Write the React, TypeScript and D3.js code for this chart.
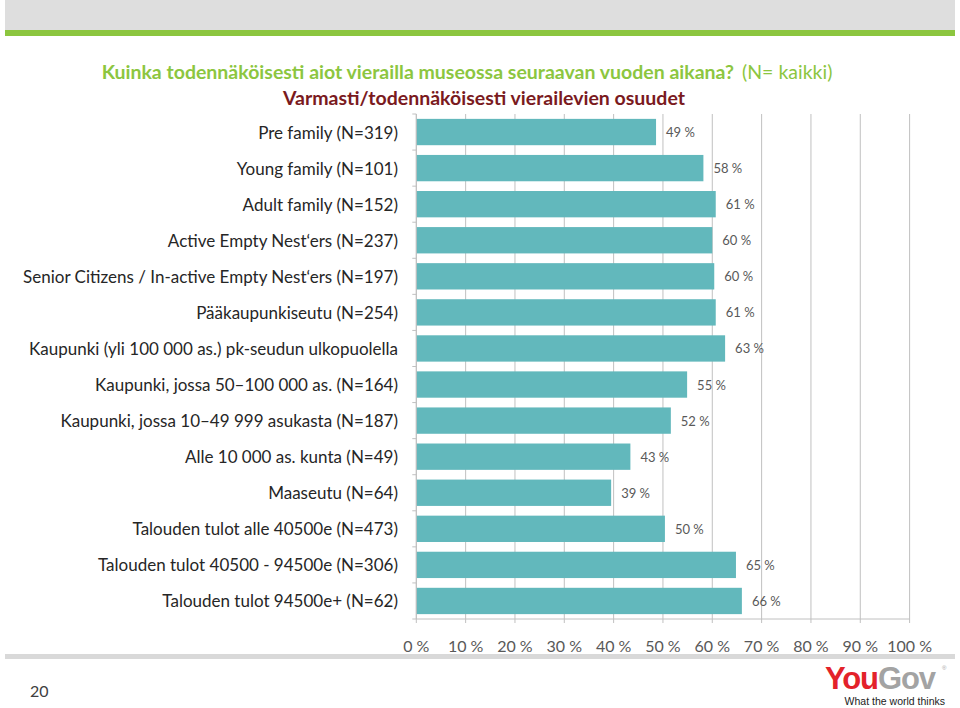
import React from "react";
import * as d3 from "d3";

const categories: string[] = [
  "Pre family (N=319)",
  "Young family (N=101)",
  "Adult family (N=152)",
  "Active Empty Nest‘ers (N=237)",
  "Senior Citizens / In-active Empty Nest‘ers (N=197)",
  "Pääkaupunkiseutu (N=254)",
  "Kaupunki (yli 100 000 as.) pk-seudun ulkopuolella",
  "Kaupunki, jossa 50–100 000 as. (N=164)",
  "Kaupunki, jossa 10–49 999 asukasta (N=187)",
  "Alle 10 000 as. kunta (N=49)",
  "Maaseutu (N=64)",
  "Talouden tulot alle 40500e (N=473)",
  "Talouden tulot 40500 - 94500e (N=306)",
  "Talouden tulot 94500e+ (N=62)",
];

const values: number[] = [48.6, 58.2, 60.7, 60.0, 60.4, 60.7, 62.6, 54.9, 51.6, 43.4, 39.5, 50.4, 64.8, 66.0];
const valueLabels: string[] = ["49 %", "58 %", "61 %", "60 %", "60 %", "61 %", "63 %", "55 %", "52 %", "43 %", "39 %", "50 %", "65 %", "66 %"];
const xTicks: number[] = [0, 10, 20, 30, 40, 50, 60, 70, 80, 90, 100];

const titleMain = "Kuinka todennäköisesti aiot vierailla museossa seuraavan vuoden aikana?";
const titleN = "(N= kaikki)";
const subtitle = "Varmasti/todennäköisesti vierailevien osuudet";
const pageNumber = "20";

const W = 960;
const H = 708;
const plotLeft = 416.3;
const plotRight = 909.6;
const plotTop = 114;
const plotBottom = 619;

const FONT = "Lato, 'Open Sans', sans-serif";
const gridColor = "#c0c0c0";
const barColor = "#62b8bc";
const labelColor = "#595959";

export default function App() {
  const x = d3.scaleLinear().domain([0, 100]).range([plotLeft, plotRight]);
  const y = d3
    .scaleBand<string>()
    .domain(categories)
    .range([plotTop, plotBottom])
    .paddingInner(0.27)
    .paddingOuter(0.135);
  const step = y.step();
  const boundaries = d3.range(categories.length + 1).map((i) => plotTop + i * step);

  return (
    <svg
      width={W}
      height={H}
      style={{ position: "absolute", left: 0, top: 0, background: "#ffffff" }}
      fontFamily={FONT}
    >
      <rect x={0} y={0} width={W} height={H} fill="#ffffff" />
      {/* header band */}
      <rect x={5} y={0} width={950} height={30} fill="#dedede" />
      <rect x={5} y={30} width={950} height={6} fill="#8cc63f" />

      {/* titles */}
      <text x={467} y={71} textAnchor="middle" dominantBaseline="central" fontSize={19.5} fill="#8cc63f">
        <tspan fontWeight="bold">{titleMain}</tspan>
        <tspan dx={8}>{titleN}</tspan>
      </text>
      <text x={484} y={97} textAnchor="middle" dominantBaseline="central" fontSize={19.5} fontWeight="bold" fill="#7a1a1e">
        {subtitle}
      </text>

      {/* gridlines */}
      {xTicks.map((t) => (
        <line key={"g" + t} x1={x(t)} x2={x(t)} y1={plotTop} y2={plotBottom + 4} stroke={gridColor} strokeWidth={1} />
      ))}

      {/* bars */}
      {categories.map((c, i) => (
        <rect key={"b" + i} x={x(0)} y={y(c)!} width={x(values[i]) - x(0)} height={y.bandwidth()} fill={barColor} />
      ))}

      {/* left axis */}
      <line x1={plotLeft} x2={plotLeft} y1={plotTop} y2={plotBottom} stroke={gridColor} strokeWidth={1} />
      {boundaries.map((b, i) => (
        <line key={"t" + i} x1={plotLeft - 4} x2={plotLeft} y1={b} y2={b} stroke={gridColor} strokeWidth={1} />
      ))}
      {/* bottom axis */}
      <line x1={plotLeft} x2={plotRight} y1={plotBottom} y2={plotBottom} stroke={gridColor} strokeWidth={1} />

      {/* category labels */}
      {categories.map((c, i) => (
        <text
          key={"c" + i}
          x={398}
          y={y(c)! + y.bandwidth() / 2}
          textAnchor="end"
          dominantBaseline="central"
          fontSize={17}
          fill="#262626"
        >
          {c}
        </text>
      ))}

      {/* value labels */}
      {categories.map((c, i) => (
        <text
          key={"v" + i}
          x={x(values[i]) + 10}
          y={y(c)! + y.bandwidth() / 2}
          dominantBaseline="central"
          fontSize={13}
          fill={labelColor}
        >
          {valueLabels[i]}
        </text>
      ))}

      {/* x tick labels */}
      {xTicks.map((t) => (
        <text key={"xl" + t} x={x(t)} y={645} textAnchor="middle" dominantBaseline="central" fontSize={16} fill={labelColor}>
          {`${t} %`}
        </text>
      ))}

      {/* footer */}
      <rect x={5} y={654} width={950} height={5} fill="#d9d9d9" />
      <text x={30} y={690} dominantBaseline="central" fontSize={16} fill="#404040">
        {pageNumber}
      </text>
      <text x={825} y={689} fontFamily="'Liberation Sans', Arial, sans-serif" fontWeight="bold" fontSize={31} letterSpacing={-1.1}>
        <tspan fill="#e3222a">You</tspan>
        <tspan fill="#a3a3a3">Gov</tspan>
      </text>
      <text x={942} y={670} fontFamily="'Liberation Sans', Arial, sans-serif" fontSize={6} fill="#a3a3a3">®</text>
      <text x={945} y={704.5} textAnchor="end" fontFamily="'Liberation Sans', Arial, sans-serif" fontSize={10.5} fill="#222">
        What the world thinks
      </text>
    </svg>
  );
}
